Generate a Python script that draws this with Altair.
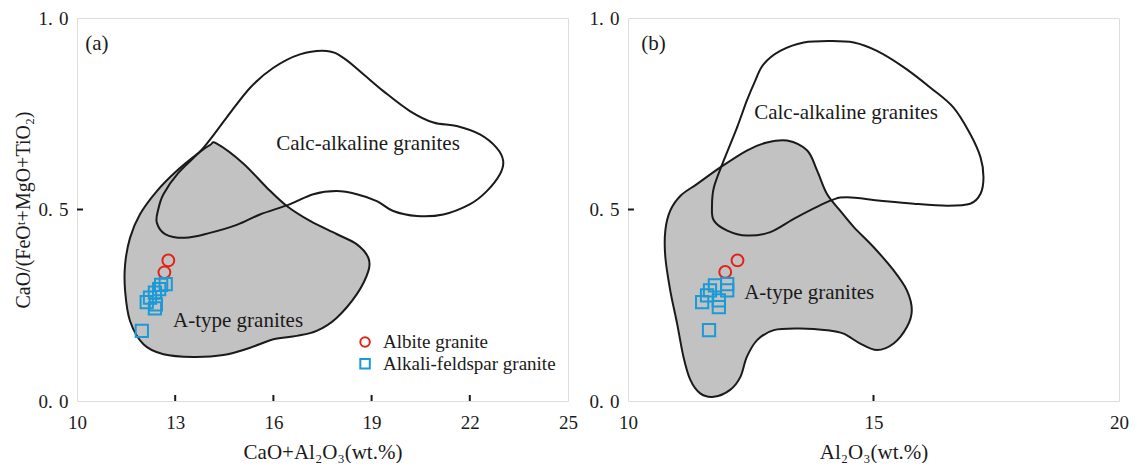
import altair as alt
import pandas as pd

# ---- field outlines (data units) ----
A_a_x = [14.27,15.07,15.80,16.41,17.12,17.93,18.55,18.90,18.90,18.55,17.93,17.32,16.71,16.00,15.29,14.47,13.55,12.64,12.03,11.62,11.47,11.47,11.62,11.92,12.44,13.05,13.66,14.06]
A_a_y = [0.672,0.621,0.557,0.509,0.470,0.436,0.409,0.374,0.339,0.279,0.217,0.183,0.170,0.161,0.139,0.120,0.115,0.122,0.148,0.209,0.287,0.357,0.426,0.487,0.548,0.601,0.644,0.668]
C_a_x = [16.81,17.63,18.14,18.75,19.36,20.17,20.89,21.60,22.31,22.82,23.02,22.92,22.52,22.01,21.19,20.38,19.66,19.16,18.55,17.93,17.22,16.51,15.59,14.88,14.06,13.30,12.69,12.44,12.47,12.64,13.09,13.86,14.57,15.29,16.00]
C_a_y = [0.905,0.914,0.896,0.853,0.809,0.757,0.727,0.718,0.696,0.661,0.627,0.592,0.548,0.514,0.487,0.483,0.496,0.522,0.540,0.548,0.540,0.514,0.487,0.460,0.439,0.426,0.436,0.465,0.496,0.540,0.595,0.661,0.740,0.818,0.870]
A_b_x = [12.83,13.24,13.65,13.85,14.05,14.32,14.60,15.00,15.41,15.68,15.78,15.68,15.41,15.07,14.73,14.39,14.05,13.51,12.97,12.63,12.42,12.29,12.08,11.75,11.47,11.27,11.13,11.00,10.86,10.76,10.76,10.86,11.07,11.41,11.88,12.42]
A_b_y = [0.675,0.680,0.654,0.602,0.541,0.497,0.454,0.402,0.341,0.289,0.237,0.193,0.150,0.133,0.150,0.176,0.185,0.189,0.185,0.159,0.115,0.063,0.029,0.011,0.020,0.055,0.115,0.202,0.289,0.376,0.445,0.497,0.536,0.567,0.610,0.654]
C_b_x = [14.12,14.60,15.07,15.62,16.16,16.63,16.97,17.18,17.24,17.18,16.97,16.50,15.82,15.14,14.46,14.12,13.44,12.90,12.42,12.02,11.75,11.71,11.75,11.95,12.22,12.42,12.59,12.76,13.10,13.58]
C_b_y = [0.940,0.936,0.914,0.871,0.818,0.766,0.697,0.636,0.584,0.541,0.515,0.510,0.515,0.523,0.532,0.523,0.480,0.441,0.432,0.445,0.471,0.506,0.558,0.628,0.714,0.784,0.836,0.879,0.914,0.936]

# ---- samples ----
alb_a_x = [12.79, 12.67]
alb_a_y = [0.367, 0.336]
alb_b_x = [12.23, 11.98]
alb_b_y = [0.367, 0.337]
afs_a_x = [12.71, 12.57, 12.51, 12.38, 12.23, 12.13, 12.41, 12.38, 11.98]
afs_a_y = [0.305, 0.303, 0.292, 0.283, 0.270, 0.258, 0.252, 0.242, 0.183]
afs_b_x = [12.02, 12.02, 11.77, 11.67, 11.61, 11.51, 11.85, 11.85, 11.65]
afs_b_y = [0.305, 0.289, 0.302, 0.289, 0.276, 0.258, 0.263, 0.245, 0.185]

x_ticks_a = [10, 13, 16, 19, 22, 25]
x_ticks_b = [10, 15, 20]
y_ticks = [0.0, 0.5, 1.0]

FONT = "Liberation Serif"
W, H = 491, 383
RED = "#e2231a"
BLUE = "#1b9ad6"
INK = "#1a1a1a"
YLABEL = "replace(format(datum.value, '.1f'), '.', '.\u2004')"


def poly_df(xs, ys):
    return pd.DataFrame({"x": xs, "y": ys, "i": list(range(len(xs)))})


def panel(dom, xt, xtitle, ytitle, Ax, Ay, Cx, Cy, abx, aby, fx, fy, texts, legend):
    xs = alt.Scale(domain=dom, nice=False, zero=False)
    ys = alt.Scale(domain=[0, 1], nice=False, zero=False)
    xax = alt.Axis(values=xt, title=xtitle, format="d", labelFont=FONT, labelFontSize=19,
                   labelPadding=12, labelFlush=False, titleFont=FONT, titleFontSize=21,
                   titleFontWeight="normal", titlePadding=9, ticks=False, domain=False,
                   grid=False, labelColor=INK, titleColor=INK)
    yax_kw = dict(values=y_ticks, labelFont=FONT, labelFontSize=19, labelPadding=9,
                  labelFlush=False, labelExpr=YLABEL, ticks=False, domain=False, grid=False,
                  labelColor=INK)
    if ytitle:
        yax = alt.Axis(title=ytitle, titleFont=FONT, titleFontSize=20, titleFontWeight="normal",
                       titlePadding=4, titleColor=INK, **yax_kw)
    else:
        yax = alt.Axis(title=None, **yax_kw)

    A = alt.Chart(poly_df(Ax, Ay)).mark_line(
        interpolate="cardinal-closed", fill="#c2c2c2", stroke=INK, strokeWidth=2
    ).encode(x=alt.X("x:Q", scale=xs, axis=xax), y=alt.Y("y:Q", scale=ys, axis=yax),
             order=alt.Order("i:Q"))
    C = alt.Chart(poly_df(Cx, Cy)).mark_line(
        interpolate="cardinal-closed", stroke=INK, strokeWidth=2
    ).encode(x=alt.X("x:Q", scale=xs), y=alt.Y("y:Q", scale=ys), order=alt.Order("i:Q"))

    alb = alt.Chart(pd.DataFrame({"x": abx, "y": aby})).mark_point(
        shape="circle", filled=False, color=RED, strokeWidth=2, size=140, opacity=1
    ).encode(x=alt.X("x:Q", scale=xs), y=alt.Y("y:Q", scale=ys))
    afs = alt.Chart(pd.DataFrame({"x": fx, "y": fy})).mark_point(
        shape="square", filled=False, color=BLUE, strokeWidth=2, size=150, opacity=1
    ).encode(x=alt.X("x:Q", scale=xs), y=alt.Y("y:Q", scale=ys))

    tdf = pd.DataFrame(texts, columns=["x", "y", "t", "a"])
    layers = [A, C, alb, afs]
    for al in ["left", "center"]:
        sub = tdf[tdf.a == al]
        if len(sub):
            layers.append(alt.Chart(sub).mark_text(
                font=FONT, fontSize=21, align=al, baseline="middle", color=INK
            ).encode(x=alt.X("x:Q", scale=xs), y=alt.Y("y:Q", scale=ys), text="t:N"))

    if legend:
        lx, ly1, ly2, ltx = legend
        layers.append(alt.Chart(pd.DataFrame({"x": [lx], "y": [ly1]})).mark_point(
            shape="circle", filled=False, color=RED, strokeWidth=2, size=90, opacity=1
        ).encode(x=alt.X("x:Q", scale=xs), y=alt.Y("y:Q", scale=ys)))
        layers.append(alt.Chart(pd.DataFrame({"x": [lx], "y": [ly2]})).mark_point(
            shape="square", filled=False, color=BLUE, strokeWidth=2, size=90, opacity=1
        ).encode(x=alt.X("x:Q", scale=xs), y=alt.Y("y:Q", scale=ys)))
        ldf = pd.DataFrame({"x": [ltx, ltx], "y": [ly1, ly2],
                            "t": ["Albite granite", "Alkali-feldspar granite"]})
        layers.append(alt.Chart(ldf).mark_text(
            font=FONT, fontSize=19, align="left", baseline="middle", color=INK
        ).encode(x=alt.X("x:Q", scale=xs), y=alt.Y("y:Q", scale=ys), text="t:N"))

    # inward ticks
    inner_x = [v for v in xt if v not in (dom[0], dom[1])]
    layers.append(alt.Chart(pd.DataFrame({"x": inner_x})).mark_rule(
        color=INK, strokeWidth=2
    ).encode(x=alt.X("x:Q", scale=xs), y=alt.value(H), y2=alt.value(H - 6)))
    layers.append(alt.Chart(pd.DataFrame({"y": [0.5]})).mark_rule(
        color=INK, strokeWidth=2
    ).encode(y=alt.Y("y:Q", scale=ys), x=alt.value(0), x2=alt.value(6)))

    return alt.layer(*layers).properties(width=W, height=H)


pa = panel([10, 25], x_ticks_a, "CaO+Al₂O₃(wt.%)", "CaO/(FeOᵗ+MgO+TiO₂)",
           A_a_x, A_a_y, C_a_x, C_a_y, alb_a_x, alb_a_y, afs_a_x, afs_a_y,
           [(10.25, 0.932, "(a)", "left"),
            (18.89, 0.671, "Calc-alkaline granites", "center"),
            (14.92, 0.209, "A-type granites", "center")],
           (18.80, 0.154, 0.097, 19.35))
pb = panel([10, 20], x_ticks_b, "Al₂O₃(wt.%)", None,
           A_b_x, A_b_y, C_b_x, C_b_y, alb_b_x, alb_b_y, afs_b_x, afs_b_y,
           [(10.27, 0.932, "(b)", "left"),
            (14.44, 0.753, "Calc-alkaline granites", "center"),
            (13.69, 0.281, "A-type granites", "center")],
           None)

chart = alt.hconcat(pa, pb, spacing=10).properties(
    padding={"left": 5, "top": 0, "right": 0, "bottom": 0}
).configure_view(stroke=INK, strokeWidth=2.5).configure(background="white")

chart.save("out.html", embed_options={"renderer": "svg", "actions": False})
